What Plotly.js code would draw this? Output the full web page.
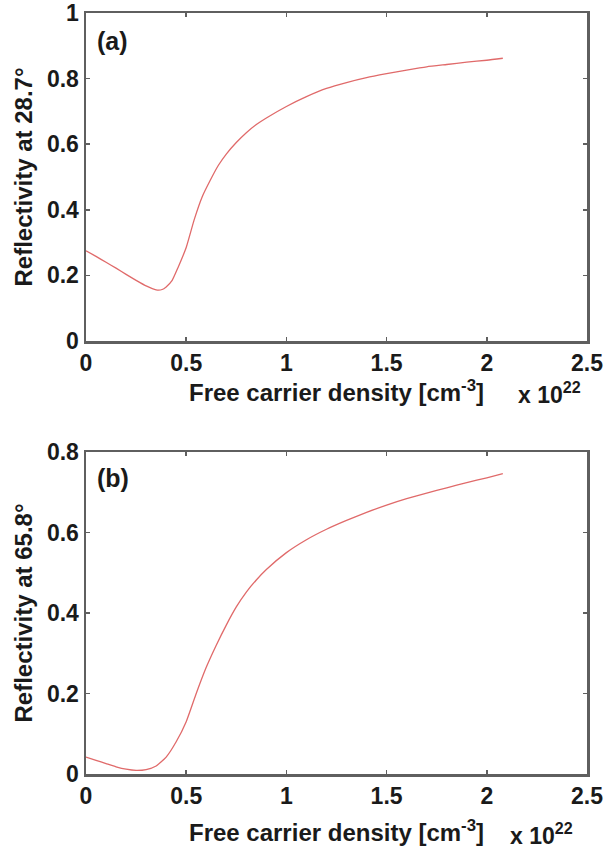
<!DOCTYPE html>
<html>
<head>
<meta charset="utf-8">
<script src="https://cdn.plot.ly/plotly-3.0.1.min.js"></script>
<style>html,body{margin:0;padding:0;background:#fff;}#chart{width:606px;height:851px;}</style>
</head>
<body>
<div id="chart"></div>
<script>
// Panel (a): reflectivity at 28.7 deg vs free carrier density (x 1e22 cm^-3)
const densityA = [0, 0.05, 0.1, 0.15, 0.2, 0.25, 0.3, 0.35, 0.38, 0.4, 0.43, 0.46, 0.5, 0.54, 0.58, 0.62, 0.66, 0.7, 0.75, 0.8, 0.85, 0.9, 1.0, 1.1, 1.2, 1.3, 1.4, 1.5, 1.6, 1.7, 1.8, 1.9, 2.0, 2.08];
const reflA    = [0.275, 0.258, 0.24, 0.222, 0.203, 0.185, 0.168, 0.156, 0.157, 0.165, 0.185, 0.225, 0.285, 0.37, 0.44, 0.49, 0.535, 0.57, 0.605, 0.635, 0.66, 0.68, 0.715, 0.745, 0.77, 0.788, 0.803, 0.815, 0.826, 0.836, 0.843, 0.85, 0.856, 0.862];

// Panel (b): reflectivity at 65.8 deg
const densityB = [0, 0.05, 0.1, 0.15, 0.2, 0.25, 0.3, 0.35, 0.4, 0.45, 0.5, 0.55, 0.6, 0.65, 0.7, 0.75, 0.8, 0.85, 0.9, 1.0, 1.1, 1.2, 1.3, 1.4, 1.5, 1.6, 1.7, 1.8, 1.9, 2.0, 2.08];
const reflB    = [0.042, 0.034, 0.026, 0.018, 0.012, 0.009, 0.011, 0.02, 0.042, 0.08, 0.13, 0.2, 0.265, 0.32, 0.37, 0.415, 0.452, 0.482, 0.508, 0.55, 0.582, 0.608, 0.63, 0.65, 0.668, 0.684, 0.698, 0.711, 0.724, 0.736, 0.746];

const xTicks = [0, 0.5, 1, 1.5, 2, 2.5];
const xTickText = ['0', '0.5', '1', '1.5', '2', '2.5'];
const yTicksA = [0, 0.2, 0.4, 0.6, 0.8, 1];
const yTickTextA = ['0', '0.2', '0.4', '0.6', '0.8', '1'];
const yTicksB = [0, 0.2, 0.4, 0.6, 0.8];
const yTickTextB = ['0', '0.2', '0.4', '0.6', '0.8'];

const FONT = 'Liberation Sans, Arial, Helvetica, sans-serif';
const TXT = '#1a1a1a';
const lineColor = '#e06a6a';
const axisColor = '#5f5f5f';

const traces = [
  {x: densityA, y: reflA, type: 'scatter', mode: 'lines', line: {color: lineColor, width: 1.3, shape: 'spline', smoothing: 0.5}, xaxis: 'x', yaxis: 'y', hoverinfo: 'skip'},
  {x: densityB, y: reflB, type: 'scatter', mode: 'lines', line: {color: lineColor, width: 1.3, shape: 'spline', smoothing: 0.5}, xaxis: 'x2', yaxis: 'y2', hoverinfo: 'skip'}
];

function xAxis(anchor, domain, standoff) {
  return {
    domain: domain, anchor: anchor, range: [0, 2.5],
    tickvals: xTicks, ticktext: xTickText,
    ticks: 'inside', ticklen: 4, tickwidth: 1.5, tickcolor: axisColor,
    showline: true, linecolor: axisColor, linewidth: 2.5, mirror: 'ticks',
    showgrid: false, zeroline: false,
    tickfont: {family: FONT, size: 23, color: TXT, weight: 'bold'},
    title: {text: 'Free carrier density [cm<sup>-3</sup>]', font: {family: FONT, size: 24, color: TXT, weight: 'bold'}, standoff: standoff}
  };
}
function yAxis(anchor, domain, range, vals, text, title) {
  return {
    domain: domain, anchor: anchor, range: range,
    tickvals: vals, ticktext: text,
    ticks: 'inside', ticklen: 4, tickwidth: 1.5, tickcolor: axisColor,
    showline: true, linecolor: axisColor, linewidth: 2.5, mirror: 'ticks',
    showgrid: false, zeroline: false,
    tickfont: {family: FONT, size: 23, color: TXT, weight: 'bold'},
    title: {text: title, font: {family: FONT, size: 24, color: TXT, weight: 'bold'}, standoff: 8}
  };
}

const xDom = [86/606, 587/606];
const layout = {
  width: 606, height: 851,
  margin: {l: 0, r: 0, t: 0, b: 0},
  paper_bgcolor: '#ffffff', plot_bgcolor: '#ffffff',
  showlegend: false,
  xaxis: xAxis('y', xDom, 4),
  yaxis: yAxis('x', [1 - 341/851, 1 - 13/851], [0, 1], yTicksA, yTickTextA, 'Reflectivity at 28.7°'),
  xaxis2: xAxis('y2', xDom, 16),
  yaxis2: yAxis('x2', [1 - 774/851, 1 - 452/851], [0, 0.8], yTicksB, yTickTextB, 'Reflectivity at 65.8°'),
  annotations: [
    {xref: 'paper', yref: 'paper', x: 95/606, y: 1 - 41/851, xanchor: 'left', yanchor: 'middle', showarrow: false, text: '(a)', font: {family: FONT, size: 25, color: TXT, weight: 'bold'}},
    {xref: 'paper', yref: 'paper', x: 95/606, y: 1 - 478/851, xanchor: 'left', yanchor: 'middle', showarrow: false, text: '(b)', font: {family: FONT, size: 25, color: TXT, weight: 'bold'}},
    {xref: 'paper', yref: 'paper', x: 516/606, y: 1 - 393/851, xanchor: 'left', yanchor: 'middle', showarrow: false, text: 'x 10<sup>22</sup>', font: {family: FONT, size: 23, color: TXT, weight: 'bold'}},
    {xref: 'paper', yref: 'paper', x: 508/606, y: 1 - 834/851, xanchor: 'left', yanchor: 'middle', showarrow: false, text: 'x 10<sup>22</sup>', font: {family: FONT, size: 23, color: TXT, weight: 'bold'}}
  ]
};

Plotly.newPlot('chart', traces, layout, {displayModeBar: false, staticPlot: true});
</script>
</body>
</html>
